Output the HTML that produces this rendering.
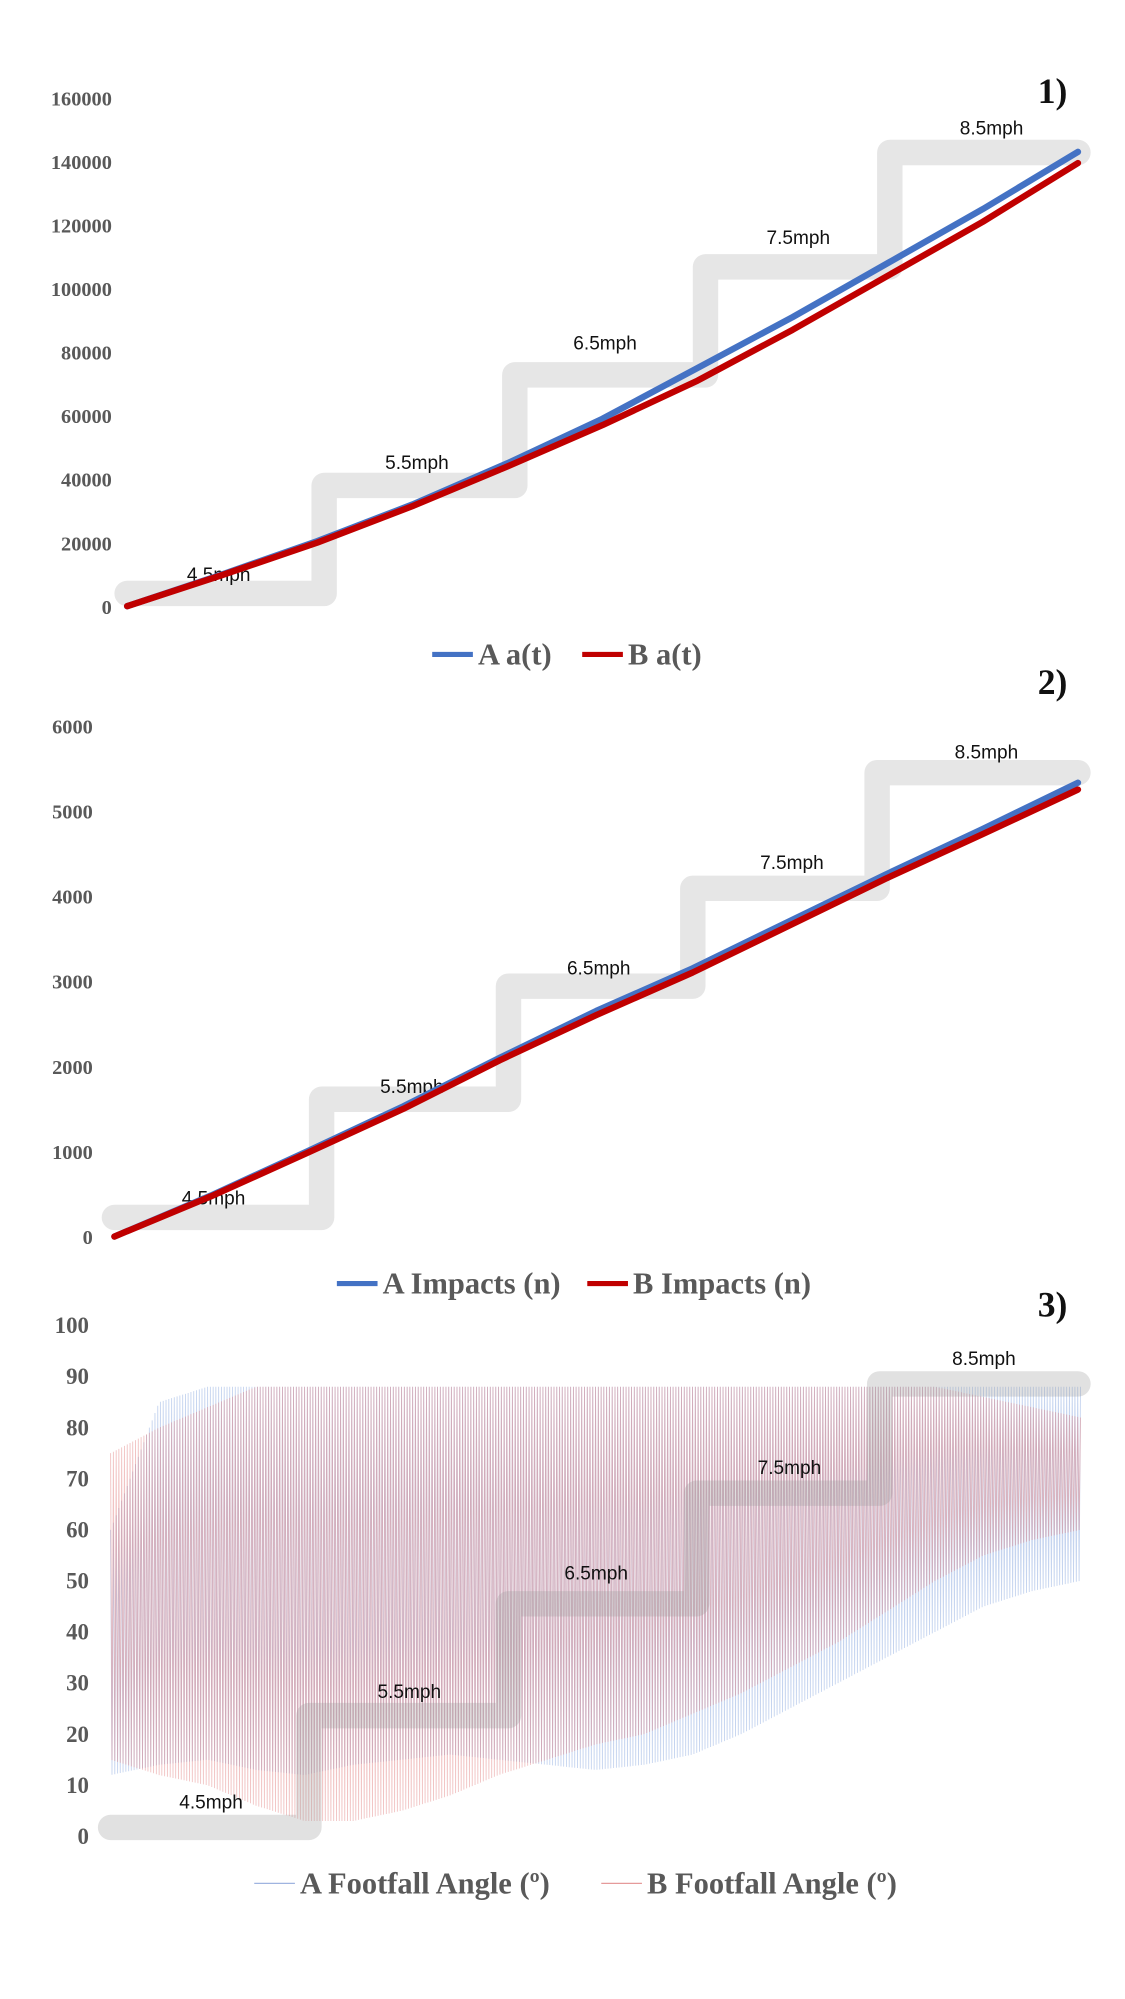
<!DOCTYPE html>
<html><head><meta charset="utf-8">
<style>
html,body{margin:0;padding:0;background:#fff;}
svg{display:block;}
.tick{font-family:"Liberation Serif",serif;font-weight:bold;font-size:16px;fill:#595959;}
.tick3{font-family:"Liberation Serif",serif;font-weight:bold;font-size:18px;fill:#595959;}
.lbl{font-family:"Liberation Sans",sans-serif;font-size:15px;fill:#111;}
.num{font-family:"Liberation Serif",serif;font-weight:bold;font-size:28px;fill:#111;}
.leg{font-family:"Liberation Serif",serif;font-weight:bold;font-size:24px;fill:#595959;}
</style></head>
<body>
<svg id="root" width="1125" height="1999" viewBox="0 0 885 1573" preserveAspectRatio="none" xmlns="http://www.w3.org/2000/svg">
<g id="c1"></g>
<g id="c2"></g>
<g id="c3"></g>
</svg>
<script>
// ---- data ----
const speedLabels = ["4.5mph","5.5mph","6.5mph","7.5mph","8.5mph"];
const timeIdx = [0,1,2,3,4,5,6,7,8,9,10];
const accelA = [0,10000,20500,32000,45000,59000,75000,91000,108000,125000,143000];
const accelB = [0,9800,20000,31500,44000,57000,71000,87000,104000,121000,139500];
const ticks1 = [0,20000,40000,60000,80000,100000,120000,140000,160000];
const impactsA = [0,480,1000,1530,2100,2650,3150,3700,4250,4780,5330];
const impactsB = [0,470,980,1500,2070,2600,3100,3650,4200,4720,5250];
const ticks2 = [0,1000,2000,3000,4000,5000,6000];
const envIdx = [0,1,2,3,4,5,6,7,8,9,10,11,12,13,14,15,16,17,18,19,20];
const angleAHigh = [60,85,88,88,88,88,88,88,88,88,88,88,88,88,88,88,88,88,88,88,88];
const angleALow  = [12,14,15,13,12,14,15,16,15,14,13,14,16,20,25,30,35,40,45,48,50];
const angleBHigh = [75,80,84,88,88,88,88,88,88,88,88,88,88,88,88,88,88,88,86,84,82];
const angleBLow  = [15,12,10,6,3,3,5,8,12,15,18,20,24,28,33,38,44,50,55,58,60];
const ticks3 = [0,10,20,30,40,50,60,70,80,90,100];

const NS="http://www.w3.org/2000/svg";
function mk(parent,tag,attrs){const e=document.createElementNS(NS,tag);for(const k in attrs)e.setAttribute(k,attrs[k]);parent.appendChild(e);return e;}

function buildChart(gId,cfg){
  const g=document.getElementById(gId);
  const sx=i=>cfg.x0+(cfg.x1-cfg.x0)*i/10;
  const sy=v=>cfg.y0-(cfg.y0-cfg.yTop)*v/cfg.vmax;
  cfg.ticks.forEach(t=>{
    const tx=mk(g,'text',{x:cfg.tx,y:sy(t)+6,'text-anchor':'end',class:cfg.tickClass});
    tx.textContent=t;
    
    
  });
  const st=cfg.steps;
  let d=`M${st[0][0]} ${st[0][2]}`;
  st.forEach((s,i)=>{d+=` L${s[1]} ${s[2]}`; if(i<st.length-1) d+=` L${s[1]} ${st[i+1][2]}`;});
  const drawStairs=()=>{
    const p=mk(g,'path',{d:d,fill:'none',stroke:cfg.stairColor,'stroke-width':20,'stroke-linejoin':'round','stroke-linecap':'round',opacity:cfg.stairOpacity});
    
    
    speedLabels.forEach((l,i)=>{
      const t=mk(g,'text',{x:cfg.labelPos[i][0],y:cfg.labelPos[i][1],'text-anchor':'middle',class:'lbl'});
      t.textContent=l;
      
      
    });
  };
  if(!cfg.stairsOnTop) drawStairs();
  cfg.draw(g,sx,sy);
  if(cfg.stairsOnTop) drawStairs();
  const n=mk(g,'text',{x:cfg.numPos[0],y:cfg.numPos[1],class:'num','text-anchor':'middle'});
  n.textContent=cfg.num;
  
  
  cfg.legend.forEach(L=>{
    const ln=mk(g,'line',{x1:L.x,x2:L.x+32,y1:L.y,y2:L.y,stroke:L.color,'stroke-width':L.w});
    
    
    const t=mk(g,'text',{x:L.x+36,y:L.y+8,class:'leg'});
    t.textContent=L.text;
    
    
  });
}
function lineSeries(g,sx,sy,vals,color,name){
  const pts=timeIdx.map((t,i)=>sx(t).toFixed(1)+','+sy(vals[i]).toFixed(1)).join(' ');
  const p=mk(g,'polyline',{points:pts,fill:'none',stroke:color,'stroke-width':5,'stroke-linejoin':'round','stroke-linecap':'round'});
  
  
}

buildChart('c1',{x0:100,x1:848,y0:477,yTop:77,vmax:160000,ticks:ticks1,tx:88,tickClass:'tick',
  steps:[[100,255,467],[255,405,382],[405,555,295],[555,700,210],[700,848,120]],
  stairColor:'#e6e6e6',stairOpacity:1,stairsOnTop:false,
  labelPos:[[172,457],[328,369],[476,275],[628,192],[780,106]],
  numPos:[828,81],num:'1)',
  legend:[{x:340,y:515,color:'#4472c4',w:4,text:'A a(t)'},{x:458,y:515,color:'#c00000',w:4,text:'B a(t)'}],
  draw:(g,sx,sy)=>{lineSeries(g,sx,sy,accelA,'#4472c4','series-a-line');lineSeries(g,sx,sy,accelB,'#c00000','series-b-line');}
});
buildChart('c2',{x0:90,x1:848,y0:973,yTop:571,vmax:6000,ticks:ticks2,tx:73,tickClass:'tick',
  steps:[[90,253,958],[253,400,865],[400,545,776],[545,690,699],[690,848,608]],
  stairColor:'#e6e6e6',stairOpacity:1,stairsOnTop:false,
  labelPos:[[168,948],[324,860],[471,767],[623,684],[776,597]],
  numPos:[828,546],num:'2)',
  legend:[{x:265,y:1010,color:'#4472c4',w:4,text:'A Impacts (n)'},{x:462,y:1010,color:'#c00000',w:4,text:'B Impacts (n)'}],
  draw:(g,sx,sy)=>{lineSeries(g,sx,sy,impactsA,'#4472c4','series-a-line');lineSeries(g,sx,sy,impactsB,'#c00000','series-b-line');}
});
function osc(g,sx,sy,hi,lo,color,name){
  const N=700, x0=sx(0), x1=sx(20);
  let pts=[];
  for(let k=0;k<=N;k++){
    const f=k/N*20, i=Math.min(19,Math.floor(f)), r=f-i;
    const h=hi[i]+(hi[i+1]-hi[i])*r, l=lo[i]+(lo[i+1]-lo[i])*r;
    const v=(k%2===0)?h:l;
    pts.push((x0+(x1-x0)*k/N).toFixed(1)+','+sy(v).toFixed(1));
  }
  const p=mk(g,'polyline',{points:pts.join(' '),fill:'none',stroke:color,'stroke-width':0.7,opacity:0.45});
  
  
}
buildChart('c3',{x0:87,x1:850,y0:1445,yTop:1043,vmax:100,ticks:ticks3,tx:70,tickClass:'tick3',
  steps:[[87,243,1438],[243,400,1350],[400,548,1262],[548,692,1175],[692,848,1089]],
  stairColor:'#9a9a9a',stairOpacity:0.3,stairsOnTop:true,
  labelPos:[[166,1423],[322,1336],[469,1243],[621,1160],[774,1074]],
  numPos:[828,1036],num:'3)',
  legend:[{x:200,y:1482,color:'#9fb4e0',w:1,text:'A Footfall Angle (º)'},{x:473,y:1482,color:'#e59a9a',w:1,text:'B Footfall Angle (º)'}],
  draw:(g,sx0,sy)=>{
    const sx=i=>87+(850-87)*i/20;
    osc(g,sx,sy,angleAHigh,angleALow,'#7f9fdc','series-a-angle');
    osc(g,sx,sy,angleBHigh,angleBLow,'#e07a7a','series-b-angle');
  }
});
</script>
</body></html>
